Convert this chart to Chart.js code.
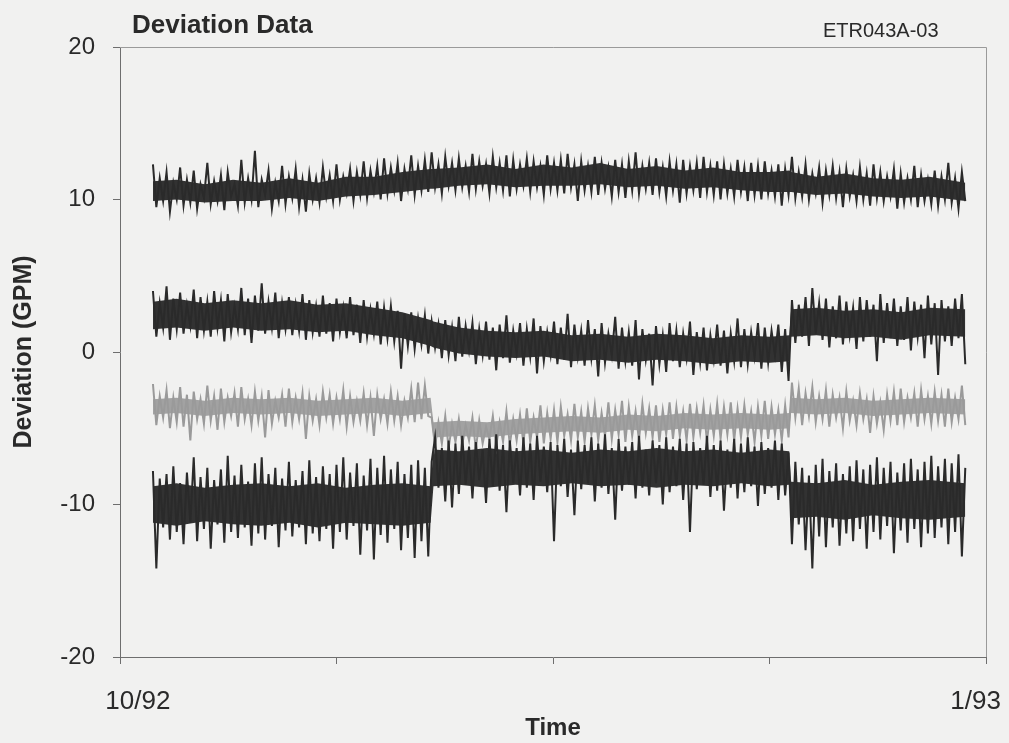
<!DOCTYPE html>
<html>
<head>
<meta charset="utf-8">
<title>Deviation Data</title>
<script src="https://cdn.jsdelivr.net/npm/chart.js@4.4.1/dist/chart.umd.min.js"></script>
<style>
  body { margin: 0; background: #f1f1f0; }
  canvas { display: block; }
</style>
</head>
<body>
<canvas id="devChart" width="1009" height="743"></canvas>
<script>
// Deviation data, 10/92 - 1/93, four channels (GPM)
const chartTitle = "Deviation Data";
const chartCode = "ETR043A-03";

// days after 10/1/92; samples are evenly spaced between these two days
const firstSampleDay = 3.5;
const lastSampleDay = 89.8;

// x axis: tick marks every quarter, date labels at both ends
const tickDays = [0, 23, 46, 69, 92];
const dateLabelDays = [1.9, 90.9];
const dateLabels = ["10/92", "1/93"];

const yTicks = [-20, -10, 0, 10, 20];

// channel 1 (top, around +11)
const channelA = [
  12.3, 9.5, 11.4, 9.9, 11.8, 9.2, 11.1, 10.0, 12.1, 9.6,
  11.3, 9.8, 11.9, 9.4, 11.0, 10.1, 12.4, 9.7, 11.2, 9.9,
  11.6, 9.3, 11.8, 10.2, 11.0, 9.6, 12.6, 9.8, 11.4, 10.0,
  13.2, 9.5, 11.3, 10.3, 11.9, 9.4, 11.1, 9.9, 12.2, 9.7,
  11.5, 10.1, 12.0, 9.5, 11.3, 9.2, 11.7, 10.0, 11.4, 9.8,
  12.1, 10.2, 11.6, 9.9, 12.3, 10.0, 11.5, 10.4, 12.0, 9.9,
  11.8, 10.3, 12.5, 10.1, 11.9, 10.5, 12.2, 10.0, 12.7, 10.4,
  12.1, 10.6, 12.4, 9.9, 12.0, 10.7, 12.9, 10.3, 12.2, 10.6,
  12.6, 10.5, 13.1, 10.8, 12.3, 10.4, 12.8, 10.9, 12.4, 10.6,
  12.7, 10.8, 12.2, 10.5, 13.0, 10.7, 12.5, 10.9, 12.3, 10.4,
  12.8, 10.8, 12.4, 10.6, 12.9, 10.2, 12.6, 10.7, 12.3, 10.9,
  12.7, 10.5, 12.5, 10.8, 12.2, 10.3, 12.9, 10.7, 12.4, 10.6,
  12.6, 10.4, 13.0, 10.8, 12.3, 9.9, 12.5, 10.6, 12.2, 10.5,
  12.8, 10.3, 12.4, 10.7, 12.1, 10.2, 12.6, 10.5, 12.3, 10.1,
  12.5, 10.6, 13.1, 10.4, 12.2, 10.7, 12.4, 10.3, 12.7, 10.5,
  12.1, 10.2, 12.5, 10.6, 12.3, 9.8, 12.6, 10.4, 12.2, 10.6,
  12.4, 10.1, 12.8, 10.5, 12.2, 10.3, 12.5, 10.0, 12.3, 10.4,
  12.0, 10.2, 12.6, 10.5, 12.1, 9.9, 12.4, 10.3, 12.2, 10.0,
  12.5, 10.4, 11.9, 10.2, 12.3, 9.6, 12.0, 10.3, 12.8, 10.1,
  11.8, 10.2, 12.3, 10.0, 11.7, 10.4, 12.1, 9.8, 11.9, 10.3,
  12.2, 10.1, 11.8, 9.5, 12.0, 10.2, 11.6, 9.9, 12.1, 10.0,
  11.7, 9.6, 12.3, 10.1, 11.8, 9.9, 11.5, 10.2, 12.0, 9.4,
  11.7, 9.8, 11.4, 10.0, 12.2, 9.5, 11.6, 9.9, 11.3, 9.7,
  11.9, 9.6, 11.5, 10.0, 12.4, 9.8, 11.4, 9.4, 11.8, 9.9
];

// channel 2 (around +2, dips to 0 in the middle)
const channelB = [
  4.0, 1.0, 3.2, 1.6, 4.3, 0.8, 3.5, 1.5, 3.9, 1.2,
  3.1, 1.7, 4.1, 0.9, 3.6, 1.4, 3.3, 1.0, 4.0, 1.6,
  3.4, 0.7, 3.8, 1.3, 3.0, 1.5, 4.2, 1.1, 3.5, 0.6,
  3.7, 1.4, 4.5, 1.2, 3.3, 1.6, 3.9, 0.9, 3.2, 1.5,
  3.6, 1.1, 3.1, 1.4, 3.8, 0.8, 3.4, 1.3, 3.0, 1.0,
  3.7, 1.2, 3.2, 0.7, 3.5, 1.3, 2.9, 0.9, 3.6, 1.1,
  3.1, 0.6, 3.4, 1.0, 2.8, 1.2, 3.3, 0.5, 2.9, 0.9,
  3.0, 0.7, 2.7, -1.1, 2.5, 0.4, 2.6, 0.2, 2.2, 0.5,
  2.4, -0.1, 2.0, 0.3, 1.8, -0.4, 2.1, -0.2, 1.6, -0.6,
  2.3, -0.3, 1.7, 0.1, 1.9, -0.8, 1.5, -0.2, 2.0, -0.5,
  1.6, -1.2, 1.8, -0.4, 2.4, -0.7, 1.4, -0.1, 1.9, -0.9,
  1.5, -0.3, 2.2, -1.4, 1.7, -0.6, 1.3, -0.2, 2.0, -0.8,
  1.6, -0.5, 2.5, -1.0, 1.8, -0.3, 1.4, -0.9, 2.1, -0.4,
  1.5, -1.6, 1.9, -0.7, 1.2, -0.2, 2.3, -1.1, 1.6, -0.6,
  1.3, -0.9, 2.1, -1.8, 1.5, -0.5, 1.2, -2.2, 1.7, -0.8,
  1.1, -1.3, 1.9, -0.6, 1.4, -1.0, 1.2, -0.4, 2.0, -1.5,
  1.3, -0.7, 1.6, -1.2, 1.1, -0.5, 1.8, -0.9, 1.4, -1.4,
  1.2, -0.6, 2.2, -1.0, 1.5, -0.8, 1.3, -0.3, 1.9, -1.1,
  1.6, -0.7, 1.4, -0.2, 1.8, -1.3, 1.5, -1.9, 3.4, 0.6,
  3.1, 1.0, 3.6, 0.4, 4.2, 1.2, 3.2, 0.8, 3.5, 0.3,
  3.0, 0.9, 3.7, 0.5, 3.3, 1.1, 2.9, 0.2, 3.6, 0.7,
  3.4, 1.0, 3.1, -0.6, 3.8, 0.6, 3.2, 0.9, 3.5, 0.4,
  3.0, 0.8, 3.6, 0.1, 3.3, 1.0, 3.1, -0.4, 3.7, 0.5,
  3.2, -1.5, 3.4, 0.7, 3.0, 0.4, 3.5, 0.9, 3.8, -0.8
];

// channel 3 (grey trace, around -4)
const channelC = [
  -2.1, -4.8, -2.9, -4.3, -2.5, -5.0, -3.0, -4.6, -2.3, -4.9,
  -2.8, -5.8, -2.6, -4.4, -3.1, -4.7, -2.2, -4.5, -2.9, -5.1,
  -2.4, -4.6, -3.0, -4.2, -2.7, -4.9, -2.3, -4.4, -3.1, -4.8,
  -2.6, -4.5, -2.9, -5.6, -2.5, -4.7, -3.2, -4.3, -2.8, -4.9,
  -2.4, -4.6, -3.0, -4.4, -2.7, -5.7, -2.9, -4.5, -3.1, -4.8,
  -2.6, -4.3, -2.8, -4.7, -3.0, -4.4, -2.5, -4.9, -2.9, -4.6,
  -3.2, -4.5, -2.7, -4.8, -3.0, -5.5, -2.8, -4.4, -3.1, -4.7,
  -2.6, -4.5, -2.9, -4.8, -3.2, -4.3, -2.4, -4.6, -2.0, -4.4,
  -2.2, -4.2, -4.3, -6.2, -4.6, -6.0, -4.2, -6.3, -4.7, -5.9,
  -4.4, -6.1, -4.8, -5.8, -4.3, -6.4, -4.5, -6.0, -4.9, -5.7,
  -4.2, -6.2, -4.6, -5.9, -3.9, -6.1, -4.4, -5.8, -4.1, -6.0,
  -3.7, -5.9, -4.3, -5.6, -3.5, -6.0, -4.0, -5.7, -3.8, -5.9,
  -3.6, -5.5, -4.1, -5.8, -3.4, -5.6, -3.9, -5.9, -3.7, -5.4,
  -3.5, -5.8, -4.0, -5.5, -3.3, -5.7, -3.8, -5.4, -3.2, -5.9,
  -3.6, -5.5, -3.9, -5.8, -3.4, -5.3, -3.7, -5.6, -3.5, -5.9,
  -3.8, -5.4, -3.3, -5.7, -3.6, -5.5, -3.9, -5.8, -3.4, -5.6,
  -3.7, -5.3, -3.5, -5.9, -3.8, -5.5, -3.4, -5.7, -3.6, -5.4,
  -3.3, -5.8, -3.7, -5.6, -3.5, -5.4, -3.9, -5.9, -3.6, -5.5,
  -3.2, -5.7, -3.6, -5.4, -3.8, -5.8, -3.5, -5.6, -2.0, -4.3,
  -2.4, -4.8, -2.7, -4.2, -2.3, -4.6, -2.9, -4.4, -2.5, -4.9,
  -2.8, -4.3, -3.0, -5.0, -2.6, -4.5, -3.2, -4.8, -2.7, -4.4,
  -3.1, -5.3, -2.9, -4.7, -3.3, -5.1, -2.8, -4.5, -2.6, -4.8,
  -2.4, -4.6, -3.0, -4.3, -2.7, -4.9, -2.5, -4.4, -2.9, -4.7,
  -2.6, -4.5, -2.8, -4.9, -2.4, -4.6, -3.0, -4.4, -2.2, -4.8
];

// channel 4 (bottom, around -10, -7.5 in the middle)
const channelD = [
  -7.8, -14.2, -8.3, -11.5, -8.0, -12.3, -7.5, -11.8, -8.6, -12.6,
  -7.9, -11.2, -6.9, -12.4, -8.2, -11.6, -7.6, -12.9, -8.4, -11.3,
  -7.7, -12.5, -6.8, -11.8, -8.1, -12.2, -7.4, -11.5, -8.5, -12.7,
  -7.3, -11.9, -6.9, -12.3, -8.0, -11.4, -7.6, -12.8, -8.3, -11.7,
  -7.2, -12.1, -8.4, -11.5, -7.8, -12.6, -7.1, -11.9, -8.2, -12.4,
  -7.5, -11.6, -8.0, -12.9, -7.4, -11.8, -6.9, -12.3, -7.9, -11.4,
  -7.3, -13.3, -8.1, -11.7, -7.0, -13.6, -7.6, -12.0, -6.8, -12.5,
  -7.7, -11.6, -7.2, -13.0, -8.0, -12.2, -7.4, -13.5, -7.1, -12.4,
  -7.6, -13.4, -7.2, -5.6, -8.9, -6.3, -9.8, -5.8, -10.2, -6.0,
  -9.3, -5.5, -8.7, -6.2, -9.6, -5.9, -8.4, -6.4, -9.9, -5.7,
  -8.8, -5.4, -9.1, -6.1, -10.5, -5.8, -8.6, -6.3, -9.4, -5.6,
  -8.9, -6.0, -9.7, -5.5, -8.5, -6.2, -9.2, -5.9, -12.4, -6.1,
  -8.8, -5.7, -9.5, -6.4, -10.7, -5.8, -9.0, -6.1, -8.6, -5.6,
  -9.8, -6.0, -8.9, -5.4, -9.3, -6.3, -11.0, -5.7, -9.1, -6.2,
  -8.7, -5.9, -9.6, -5.5, -8.9, -6.4, -9.4, -5.8, -8.6, -6.1,
  -10.0, -5.6, -9.2, -6.2, -8.8, -5.7, -9.7, -6.0, -11.8, -5.9,
  -9.0, -6.3, -8.7, -5.5, -9.5, -6.1, -9.1, -5.8, -10.4, -6.4,
  -8.9, -5.7, -9.6, -6.0, -9.2, -5.6, -8.8, -6.2, -10.1, -5.9,
  -9.3, -6.3, -8.9, -5.8, -9.7, -6.0, -9.4, -6.6, -12.6, -7.2,
  -11.3, -7.6, -13.0, -8.1, -14.2, -7.4, -12.1, -7.0, -12.8, -7.8,
  -11.5, -7.3, -12.7, -8.0, -11.9, -7.5, -12.4, -7.1, -11.6, -7.7,
  -12.9, -7.4, -11.8, -6.9, -12.3, -7.6, -11.4, -7.2, -13.2, -7.9,
  -11.7, -7.3, -12.5, -7.0, -11.6, -7.7, -12.8, -7.2, -11.9, -6.8,
  -12.2, -7.5, -11.5, -7.0, -12.6, -7.3, -11.8, -6.7, -13.4, -7.6
];

// dense core of each trace (where the record is solid), read at these days
const coreDays = [3.5, 6, 9, 12, 15, 18, 21, 24, 27, 30, 33.0, 33.3, 36, 39, 42, 45,
  48, 51, 54, 57, 60, 63, 66, 69, 71.1, 71.3, 74, 77, 80, 83, 86, 89.8];
const coreAHigh = [11.2, 11.3, 11.0, 11.3, 11.1, 11.4, 11.1, 11.5, 11.5, 11.8, 12.0, 12.0, 12.1, 12.3, 12.0, 12.3,
  12.1, 12.4, 12.0, 12.2, 11.9, 12.1, 11.8, 11.8, 11.9, 11.8, 11.5, 11.7, 11.4, 11.3, 11.5, 11.1];
const coreALow = [9.9, 10.0, 9.8, 9.9, 9.9, 10.1, 9.9, 10.2, 10.3, 10.5, 10.7, 10.7, 10.9, 11.0, 10.8, 10.9,
  10.9, 11.0, 10.8, 10.9, 10.7, 10.8, 10.6, 10.5, 10.5, 10.5, 10.3, 10.4, 10.2, 10.1, 10.2, 9.9];
const coreBHigh = [3.3, 3.5, 3.2, 3.4, 3.2, 3.4, 3.1, 3.2, 2.9, 2.6, 2.1, 2.0, 1.6, 1.4, 1.3, 1.4,
  1.1, 1.2, 1.0, 1.2, 1.1, 0.9, 1.1, 1.0, 1.1, 2.8, 2.9, 2.7, 2.8, 2.6, 2.9, 2.8];
const coreBLow = [1.5, 1.6, 1.4, 1.6, 1.4, 1.5, 1.3, 1.4, 1.1, 0.9, 0.4, 0.3, -0.1, -0.3, -0.4, -0.3,
  -0.6, -0.5, -0.7, -0.5, -0.6, -0.8, -0.6, -0.7, -0.6, 1.0, 1.1, 0.9, 1.0, 0.8, 1.1, 1.0];
const coreCHigh = [-3.1, -3.0, -3.2, -3.0, -3.1, -3.0, -3.2, -3.1, -3.0, -3.2, -3.0, -4.6, -4.5, -4.6, -4.4, -4.3,
  -4.2, -4.3, -4.1, -4.2, -4.0, -4.1, -4.0, -4.1, -4.0, -3.0, -3.1, -3.0, -3.2, -3.1, -3.0, -3.1];
const coreCLow = [-4.1, -4.0, -4.2, -4.0, -4.1, -4.0, -4.2, -4.1, -4.0, -4.2, -4.0, -5.6, -5.5, -5.6, -5.4, -5.3,
  -5.2, -5.3, -5.1, -5.2, -5.0, -5.1, -5.0, -5.1, -5.0, -4.0, -4.1, -4.0, -4.2, -4.1, -4.0, -4.1];
const coreDHigh = [-8.8, -8.6, -8.9, -8.7, -8.6, -8.8, -8.6, -8.9, -8.7, -8.6, -8.8, -6.4, -6.5, -6.3, -6.5, -6.4,
  -6.6, -6.4, -6.5, -6.3, -6.5, -6.4, -6.6, -6.4, -6.5, -8.5, -8.6, -8.4, -8.7, -8.5, -8.4, -8.6];
const coreDLow = [-11.2, -11.4, -11.1, -11.3, -11.4, -11.2, -11.5, -11.2, -11.3, -11.4, -11.2, -8.8, -8.7, -8.9, -8.7, -8.8,
  -8.6, -8.8, -8.7, -8.9, -8.7, -8.8, -8.6, -8.8, -8.7, -10.9, -10.8, -11.0, -10.7, -10.9, -11.0, -10.8];

const darkTrace = "#2a2a2a";
const darkCore = "#323232";
const greyTrace = "#9a9a9a";
const greyCore = "#a2a2a2";
const axisColor = "#6e6e6e";
const textColor = "#2a2a2a";
const fontFamily = "'Liberation Sans', Arial, sans-serif";

// pair each reading with its sample day
function toPoints(values) {
  const step = (lastSampleDay - firstSampleDay) / (values.length - 1);
  return values.map((v, i) => ({ x: firstSampleDay + i * step, y: v }));
}

function traceSet(values, color) {
  return {
    data: toPoints(values),
    borderColor: color,
    borderWidth: 2,
    pointRadius: 0,
    tension: 0,
    fill: false
  };
}

// lower edge of the core, then upper edge filled down to it
function coreSets(high, low, color) {
  const edge = arr => arr.map((v, i) => ({ x: coreDays[i], y: v }));
  return [
    { data: edge(low), borderWidth: 0, pointRadius: 0, fill: false },
    { data: edge(high), borderWidth: 0, pointRadius: 0, fill: "-1", backgroundColor: color }
  ];
}

// frame round the plot and the two header texts
const framePlugin = {
  id: "frame",
  beforeDraw(chart) {
    const c = chart.ctx;
    c.save();
    c.fillStyle = "#f1f1f0";
    c.fillRect(0, 0, chart.width, chart.height);
    c.restore();
  },
  afterDraw(chart) {
    const a = chart.chartArea;
    const c = chart.ctx;
    c.save();
    c.strokeStyle = "#9a9a9a";
    c.lineWidth = 1;
    c.beginPath();
    c.moveTo(a.left, a.top + 0.5);
    c.lineTo(a.right + 0.5, a.top + 0.5);
    c.lineTo(a.right + 0.5, a.bottom);
    c.stroke();

    c.fillStyle = textColor;
    c.textBaseline = "alphabetic";
    c.textAlign = "left";
    c.font = "bold 26px " + fontFamily;
    c.fillText(chartTitle, 132, 33);
    c.font = "20px " + fontFamily;
    c.fillText(chartCode, 823, 37);
    c.restore();
  }
};

const ctx = document.getElementById("devChart").getContext("2d");
new Chart(ctx, {
  type: "line",
  data: {
    datasets: [
      traceSet(channelA, darkTrace),
      traceSet(channelB, darkTrace),
      traceSet(channelD, darkTrace),
      traceSet(channelC, greyTrace),
      ...coreSets(coreAHigh, coreALow, darkCore),
      ...coreSets(coreBHigh, coreBLow, darkCore),
      ...coreSets(coreDHigh, coreDLow, darkCore),
      ...coreSets(coreCHigh, coreCLow, greyCore)
    ]
  },
  options: {
    responsive: false,
    animation: false,
    layout: { padding: { left: 0, top: 47, right: 23, bottom: 0 } },
    plugins: {
      legend: { display: false },
      tooltip: { enabled: false }
    },
    scales: {
      x: {
        type: "linear",
        min: tickDays[0],
        max: tickDays[tickDays.length - 1],
        afterFit(scale) { scale.height = 86; },
        afterBuildTicks(scale) {
          const all = tickDays.concat(dateLabelDays).sort((a, b) => a - b);
          scale.ticks = all.map(v => ({ value: v }));
        },
        ticks: {
          autoSkip: false,
          maxRotation: 0,
          padding: 22,
          color: textColor,
          font: { family: fontFamily, size: 26 },
          callback(value) {
            const k = dateLabelDays.indexOf(value);
            return k >= 0 ? dateLabels[k] : "";
          }
        },
        grid: {
          drawOnChartArea: false,
          tickLength: 7,
          tickColor(context) {
            const v = context.tick ? context.tick.value : null;
            return dateLabelDays.includes(v) ? "rgba(0,0,0,0)" : axisColor;
          }
        },
        border: { color: axisColor, width: 1 },
        title: {
          display: true,
          text: "Time",
          color: textColor,
          font: { family: fontFamily, size: 24, weight: "bold" },
          padding: { top: 0, bottom: 0 }
        }
      },
      y: {
        min: yTicks[0],
        max: yTicks[yTicks.length - 1],
        afterFit(scale) { scale.width = 120; },
        afterBuildTicks(scale) {
          scale.ticks = yTicks.map(v => ({ value: v }));
        },
        ticks: {
          padding: 18,
          color: textColor,
          font: { family: fontFamily, size: 24 }
        },
        grid: {
          drawOnChartArea: false,
          tickLength: 7,
          tickColor: axisColor
        },
        border: { color: axisColor, width: 1 },
        title: {
          display: true,
          text: "Deviation (GPM)",
          color: textColor,
          font: { family: fontFamily, size: 25, weight: "bold" },
          padding: { top: 9, bottom: 0 }
        }
      }
    }
  },
  plugins: [framePlugin]
});
</script>
</body>
</html>
